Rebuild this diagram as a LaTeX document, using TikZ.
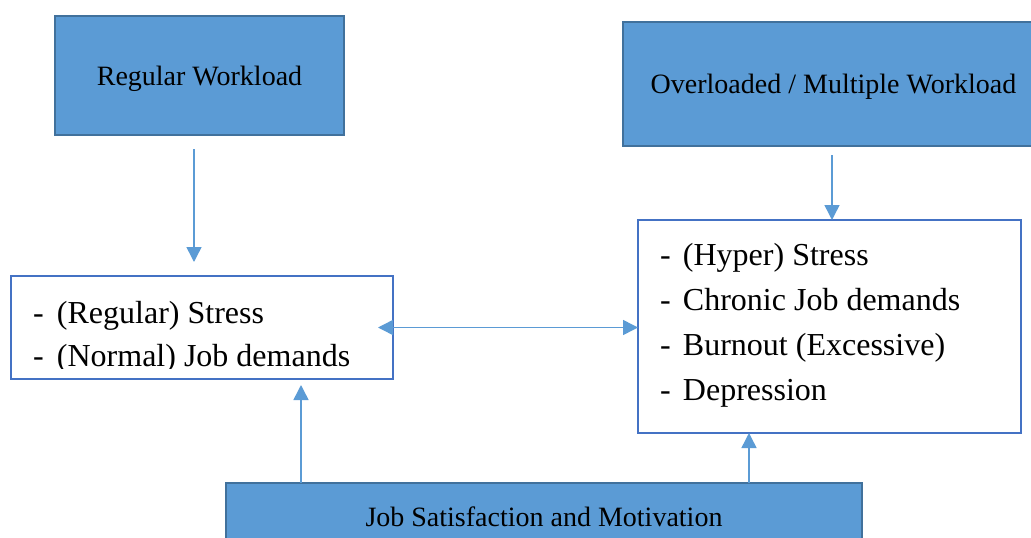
\documentclass[tikz,border=0pt]{standalone}
\usepackage{fontspec}
\setmainfont{Liberation Serif}
\usetikzlibrary{arrows.meta,calc}
\definecolor{boxfill}{HTML}{5B9BD5}
\definecolor{boxedge}{HTML}{41719C}
\definecolor{listedge}{HTML}{4472C4}
\definecolor{arrowc}{HTML}{5B9BD5}
\tikzset{
  bluebox/.style={draw=boxedge,fill=boxfill,line width=2pt,rectangle,outer sep=0pt,inner sep=0pt,
     text height=19pt,text depth=0pt,font=\fontsize{28}{34}\selectfont},
  listbox/.style={draw=listedge,line width=2pt,rectangle,outer sep=0pt,inner sep=0pt,fill=white},
  item/.style={anchor=base west,inner sep=0pt,outer sep=0pt,font=\fontsize{32}{44}\selectfont},
  arr/.style={draw=arrowc,line width=1.5pt,-{Triangle[width=15pt,length=15pt]}},
  darr/.style={draw=arrowc,line width=1.5pt,{Triangle[width=15pt,length=15pt]}-{Triangle[width=15pt,length=15pt]}}
}
\begin{document}
\begin{tikzpicture}[x=1pt,y=-1pt]
\useasboundingbox (0,0) rectangle (1031,538);
\node[bluebox,minimum width=289pt,minimum height=119pt] (RW) at (199.5,75.5) {Regular Workload};
\node[bluebox,minimum width=421pt,minimum height=124pt] (OW) at (833.5,84) {Overloaded / Multiple Workload};
\node[listbox,minimum width=382pt,minimum height=103pt] (L) at (202,327.5) {};
\node[listbox,minimum width=383pt,minimum height=213pt] (R) at (829.5,326.5) {};
\node[bluebox,minimum width=636pt,minimum height=67pt,anchor=north] (JS) at (544,483) {Job Satisfaction and Motivation};
\begin{scope}
\clip (11,276) rectangle (393,368);
\node[item] (L1) at (33,323) {\makebox[24pt][l]{-}(Regular) Stress};
\node[item] (L2) at (33,366) {\makebox[24pt][l]{-}(Normal) Job demands};
\end{scope}
\node[item] (R1) at (660,265) {\makebox[23pt][l]{-}(Hyper) Stress};
\node[item] (R2) at (660,310) {\makebox[23pt][l]{-}Chronic Job demands};
\node[item] (R3) at (660,355) {\makebox[23pt][l]{-}Burnout (Excessive)};
\node[item] (R4) at (660,400) {\makebox[23pt][l]{-}Depression};
\draw[arr] ([xshift=-5.5pt,yshift=-14pt]RW.south) -- ([xshift=-8pt,yshift=14pt]L.north);
\draw[arr] ([xshift=-1.5pt,yshift=-9pt]OW.south) -- ([xshift=2.5pt]R.north);
\draw[darr] ([xshift=-15pt]L.east) -- (L.east -| R.west);
\draw[arr] ([xshift=-243pt]JS.north) -- ([xshift=99pt,yshift=-6pt]L.south);
\draw[arr] ([xshift=205pt]JS.north) -- ([xshift=-80.5pt]R.south);
\end{tikzpicture}
\end{document}
